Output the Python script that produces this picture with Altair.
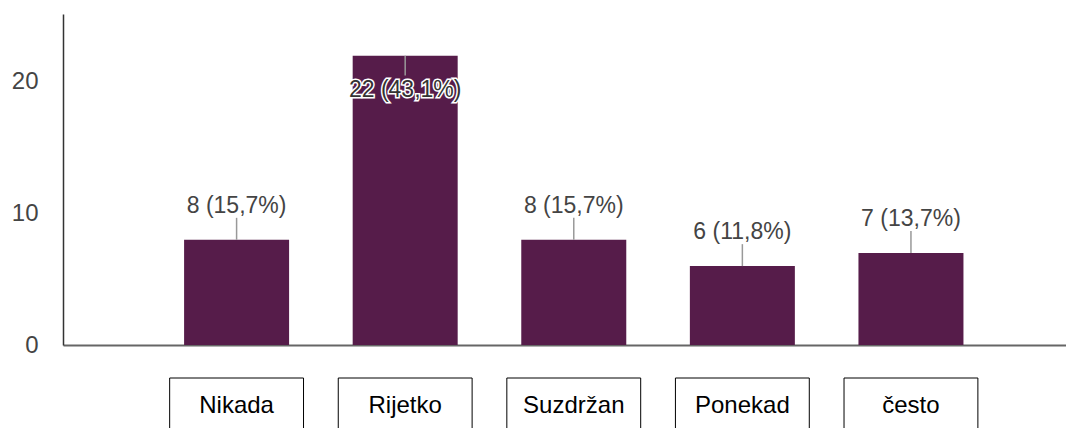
import altair as alt
import pandas as pd

categories = ["Nikada", "Rijetko", "Suzdržan", "Ponekad", "često"]
counts = [8, 22, 8, 6, 7]
percents = ["15,7", "43,1", "15,7", "11,8", "13,7"]
positions = [1, 2, 3, 4, 5]

df = pd.DataFrame({
    "cat": categories,
    "count": counts,
    "pct": percents,
    "pos": positions,
})
df["label"] = [f"{c} ({p}%)" for c, p in zip(counts, percents)]

FONT = "Liberation Sans"
BAR = "#561c4a"

x = alt.X("pos:Q", scale=alt.Scale(domain=[0, 5.89], nice=False, zero=False),
          axis=alt.Axis(labels=False, ticks=False, grid=False, title=None,
                        domainColor="#666", domainWidth=2))
y = alt.Y("count:Q", scale=alt.Scale(domain=[0, 25.17], nice=False),
          axis=alt.Axis(values=[0, 10, 20], ticks=False, grid=False, title=None,
                        labelPadding=25, labelFontSize=24, labelColor="#444",
                        labelFont=FONT, domainColor="#333", domainWidth=1.5))

base = alt.Chart(df)

bars = base.mark_bar(color=BAR, size=105).encode(x=x, y=y)

leaders = base.transform_calculate(
    y2="datum.count > 20 ? datum.count - 1.5 : datum.count + 1.67"
).mark_rule(color="#999", strokeWidth=1.5).encode(
    x="pos:Q", y="count:Q", y2="y2:Q")

outside = base.transform_filter("datum.count <= 20").mark_text(
    font=FONT, fontSize=23, color="#444", baseline="alphabetic", dy=-27
).encode(x="pos:Q", y="count:Q", text="label:N")

inside_halo = base.transform_filter("datum.count > 20").mark_text(
    font=FONT, fontSize=23, color="#333", baseline="alphabetic", dy=41,
    stroke="white", strokeWidth=3
).encode(x="pos:Q", y="count:Q", text="label:N")

inside = base.transform_filter("datum.count > 20").mark_text(
    font=FONT, fontSize=23, color="#333", baseline="alphabetic", dy=41
).encode(x="pos:Q", y="count:Q", text="label:N")

boxes = base.transform_calculate(
    bx="datum.pos - 0.397", bx2="datum.pos + 0.397"
).mark_rect(fill="white", stroke="black", strokeWidth=1).encode(
    x="bx:Q", x2="bx2:Q", y=alt.value(364), y2=alt.value(440))

box_text = base.mark_text(
    font=FONT, fontSize=24, color="black", baseline="alphabetic"
).encode(x="pos:Q", y=alt.value(399), text="cat:N")

chart = alt.layer(bars, leaders, outside, inside_halo, inside, boxes, box_text).properties(
    width=1003, height=331,
    autosize=alt.AutoSizeParams(type="none"),
    padding={"left": 55, "top": 6, "right": 0, "bottom": 100},
).configure_view(stroke=None)

chart.save("out.html", embed_options={"renderer": "svg", "actions": False})
